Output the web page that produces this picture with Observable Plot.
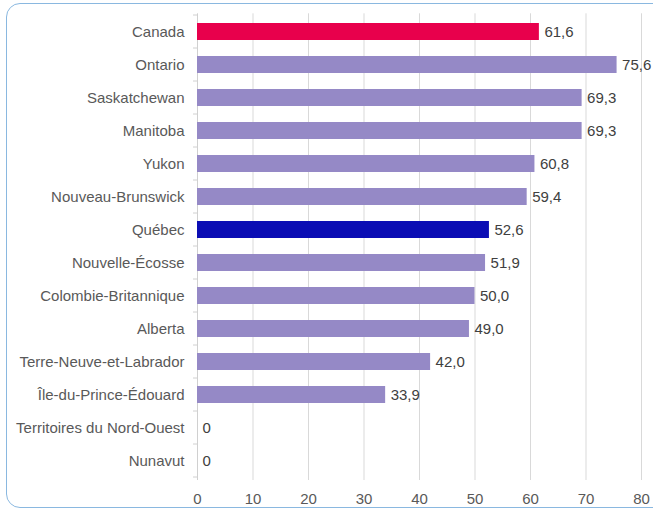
<!DOCTYPE html>
<html>
<head>
<meta charset="utf-8">
<script src="https://cdn.jsdelivr.net/npm/d3@7"></script>
<script src="https://cdn.jsdelivr.net/npm/@observablehq/plot@0.6"></script>
<style>
  html, body { margin: 0; padding: 0; background: #fff; }
  #wrap { position: relative; width: 653px; height: 512px; overflow: hidden; }
  #frame { position: absolute; left: 5.5px; top: 3px; width: 670px; height: 505px; border: 1.3px solid #8ab8e0; border-radius: 14px; box-sizing: border-box; pointer-events: none; }
  #chart { position: absolute; left: 0; top: 0; }
</style>
</head>
<body>
<div id="wrap"><div id="chart"></div><div id="frame"></div></div>
<script>
const regions = ["Canada", "Ontario", "Saskatchewan", "Manitoba", "Yukon", "Nouveau-Brunswick", "Québec", "Nouvelle-Écosse", "Colombie-Britannique", "Alberta", "Terre-Neuve-et-Labrador", "Île-du-Prince-Édouard", "Territoires du Nord-Ouest", "Nunavut"];
const values = [61.6, 75.6, 69.3, 69.3, 60.8, 59.4, 52.6, 51.9, 50.0, 49.0, 42.0, 33.9, 0, 0];
const xTicks = [0, 10, 20, 30, 40, 50, 60, 70, 80];

const colorOf = r => r === "Canada" ? "#e8004c" : r === "Québec" ? "#0b0db4" : "#9589c6";
const data = regions.map((r, i) => ({region: r, value: values[i], color: colorOf(r)}));
const fmt = v => v === 0 ? "0" : v.toFixed(1).replace(".", ",");

const height = 512, marginTop = 13.3, marginBottom = 32;

const chart = Plot.plot({
  width: 653,
  height,
  marginLeft: 197,
  marginRight: 12,
  marginTop,
  marginBottom,
  style: {fontFamily: "'Liberation Sans', Arial, sans-serif", fontSize: "15px", color: "#595959", background: "transparent"},
  x: {type: "linear", domain: [0, 80], ticks: xTicks, tickSize: 0, tickPadding: 13, label: null, tickFormat: d => String(d)},
  y: {type: "band", domain: regions, paddingInner: 0.47, paddingOuter: 0.235, tickSize: 0, tickPadding: 13, label: null},
  marks: [
    Plot.ruleX(xTicks.filter(d => d > 0), {stroke: "#d9d9d9", strokeWidth: 1}),
    Plot.ruleX([0], {stroke: "#d0d0d0", strokeWidth: 1}),
    Plot.barX(data, {y: "region", x: "value", fill: "color"}),
    Plot.text(data, {y: "region", x: "value", text: d => fmt(d.value), textAnchor: "start", dx: 5, fill: "#404040", fontSize: 15})
  ]
});

// small tick marks at band boundaries on the left axis, positioned through the y scale
const ys = chart.scale("y");
const x0 = chart.scale("x").apply(0);
const step = ys.step;
const g = d3.select(chart).append("g").attr("stroke", "#d0d0d0");
regions.forEach((r, i) => {
  const c = ys.apply(r) + ys.bandwidth / 2;
  g.append("line").attr("x1", x0 - 4).attr("x2", x0).attr("y1", c - step / 2).attr("y2", c - step / 2);
  if (i === regions.length - 1) g.append("line").attr("x1", x0 - 4).attr("x2", x0).attr("y1", c + step / 2).attr("y2", c + step / 2);
});
document.getElementById("chart").appendChild(chart);
</script>
</body>
</html>
